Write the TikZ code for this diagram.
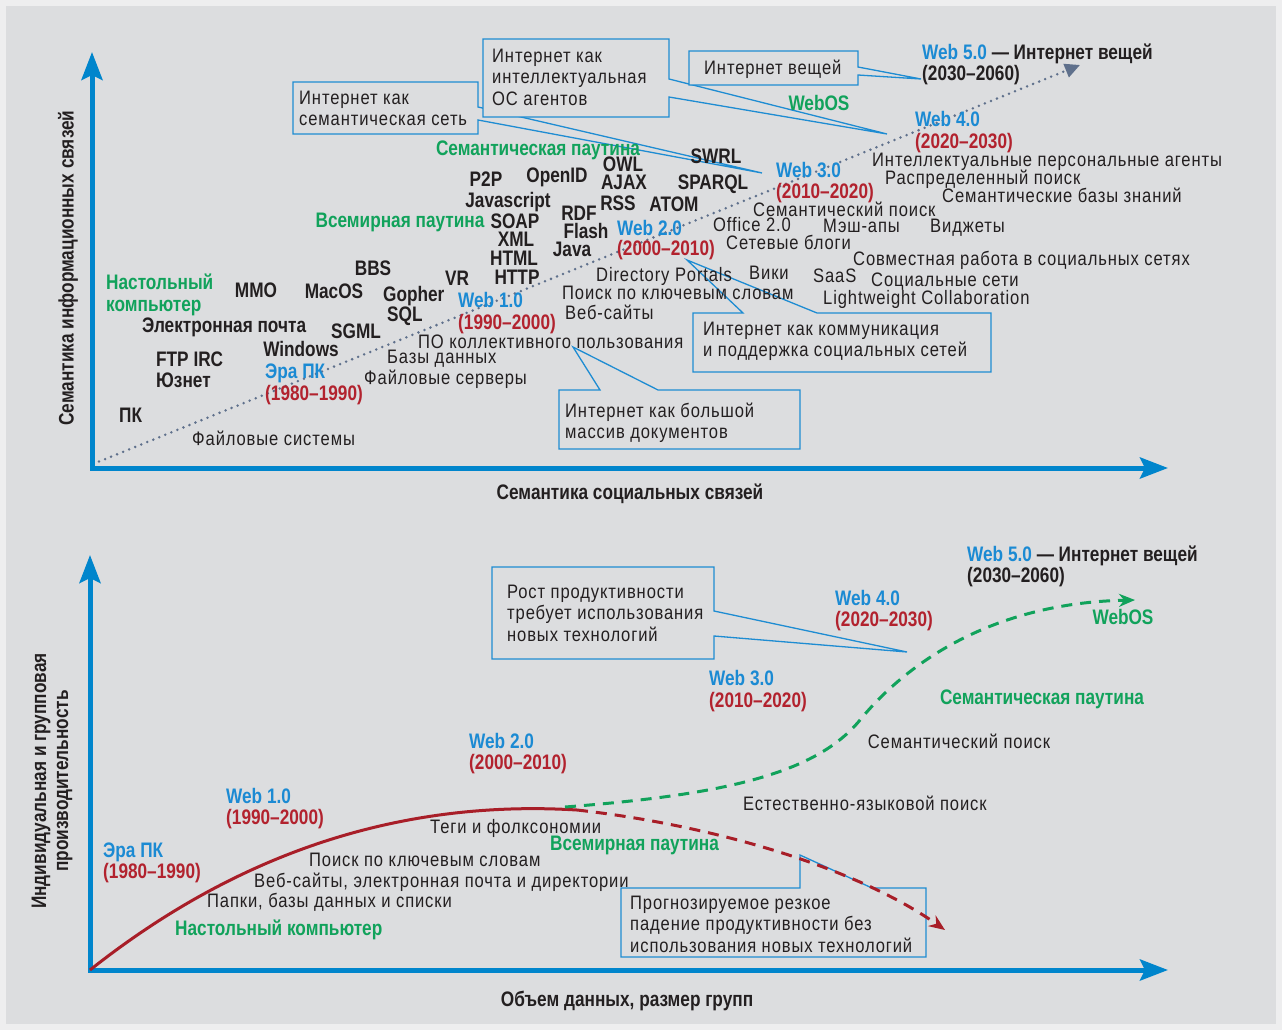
\documentclass[tikz,border=0pt]{standalone}
\usepackage{fontspec}
\usetikzlibrary{arrows.meta}

% narrow sans faces for the labels
\newfontfamily\txtfam{Liberation Sans}[FakeStretch=0.85,LetterSpace=4.5]
\newfontfamily\hdfam{Liberation Sans}[FakeStretch=0.82]
\newcommand\regtxt{\txtfam\fontsize{19.5}{21.3}\selectfont}
\newcommand\boldtxt{\hdfam\bfseries\fontsize{21}{22}\selectfont}

\definecolor{panel}{RGB}{220,221,223}
\definecolor{rim}{RGB}{238,238,239}
\definecolor{ink}{RGB}{35,31,32}
\definecolor{axisblue}{RGB}{0,133,204}
\definecolor{webblue}{RGB}{27,138,211}
\definecolor{yearred}{RGB}{178,34,46}
\definecolor{leafgreen}{RGB}{17,162,91}
\definecolor{trend}{RGB}{95,112,140}
\definecolor{boxline}{RGB}{30,140,210}
\definecolor{curvered}{RGB}{168,30,40}

\tikzset{
  reg/.style={font=\regtxt, text=ink, inner sep=0pt, text height=14pt, text depth=0pt},
  regblock/.style={font=\regtxt, text=ink, inner sep=0pt, align=left, anchor=north west},
  bld/.style={font=\boldtxt, text=ink, inner sep=0pt, text height=15pt, text depth=0pt},
  era/.style={bld, text=webblue, anchor=west},
  years/.style={bld, text=yearred, anchor=west},
  leaf/.style={bld, text=leafgreen},
  callout/.style={draw=boxline, line width=1.3pt, fill=panel, line join=miter},
  axisline/.style={draw=axisblue, line width=5pt,
    {Stealth[length=28pt,width=21pt,inset=5pt]}-{Stealth[length=28pt,width=21pt,inset=5pt]}},
  trendline/.style={draw=trend, line width=2.8pt, line cap=round,
    dash pattern=on 0pt off 6.5pt, -{Triangle[length=15pt,width=14pt]}},
  solidcurve/.style={draw=curvered, line width=3pt},
  dropcurve/.style={draw=curvered, line width=3pt, dash pattern=on 11pt off 8pt,
    -{Stealth[length=16pt,width=13pt]}},
  risecurve/.style={draw=leafgreen, line width=3pt, dash pattern=on 11pt off 8pt,
    -{Stealth[length=16pt,width=13pt]}},
}

\begin{document}
\begin{tikzpicture}[x=1pt,y=-1pt]
\useasboundingbox (0,0) rectangle (1282,1030);
\fill[rim] (0,0) rectangle (1282,1030);
\fill[panel] (6,6) rectangle (1276,1024);

% ---------- upper chart: callouts ----------
\path[callout] (293,82) -- (478,82) -- (478,107) -- (762,173) -- (478,120) -- (478,134) -- (293,134) -- cycle;
\node[regblock] (cSemNet) at (299,91) {Интернет как\\семантическая сеть};

\path[callout] (483,39) -- (669,39) -- (669,79) -- (887,134) -- (669,97) -- (669,117) -- (483,117) -- cycle;
\node[regblock] (cAgentOS) at (492,49) {Интернет как\\интеллектуальная\\ОС агентов};

\path[callout] (689,51) -- (858,51) -- (858,67) -- (921,79) -- (858,75) -- (858,85) -- (689,85) -- cycle;
\node[reg, anchor=west] (cThings) at (704,68) {Интернет вещей};

\path[callout] (693,313) -- (743,313) -- (687,260) -- (817,313) -- (991,313) -- (991,372) -- (693,372) -- cycle;
\node[regblock] (cSocial) at (703,322) {Интернет как коммуникация\\и поддержка социальных сетей};

\path[callout] (559,390) -- (600,390) -- (573,347) -- (658,390) -- (800,390) -- (800,449) -- (559,449) -- cycle;
\node[regblock] (cDocs) at (565,403) {Интернет как большой\\массив документов};

% ---------- upper chart: axes and trend ----------
\coordinate (oA) at (92,468);
\coordinate (yA) at (92,52);
\coordinate (xA) at (1168,468);
\coordinate (tStart) at (93,464);
\coordinate (tEnd) at (1080,65);
\draw[trendline] (tStart) -- (tEnd);
\draw[axisline] (yA) -- (oA) -- (xA);

\node[bld, rotate=90] (yLabA) at (66,268) {Семантика информационных связей};
\node[bld] (xLabA) at (630,492) {Семантика социальных связей};

% technologies (bold)
\node[bld, anchor=west] (tPK) at (119,415) {ПК};
\node[bld, anchor=west] (tFtp) at (156,359) {FTP IRC};
\node[bld, anchor=west] (tUsenet) at (156,380) {Юзнет};
\node[bld, anchor=west] (tMail) at (142,325) {Электронная почта};
\node[bld] (tMmo) at (256,290) {MMO};
\node[bld] (tMac) at (334,291) {MacOS};
\node[bld] (tBbs) at (373,268) {BBS};
\node[bld, anchor=west] (tGopher) at (383,294) {Gopher};
\node[bld, anchor=west] (tSql) at (387,314) {SQL};
\node[bld] (tSgml) at (356,331) {SGML};
\node[bld] (tWin) at (301,349) {Windows};
\node[bld] (tVr) at (457,278) {VR};
\node[bld] (tHttp) at (517,277) {HTTP};
\node[bld] (tHtml) at (514,258) {HTML};
\node[bld] (tXml) at (516,239) {XML};
\node[bld] (tSoap) at (515,221) {SOAP};
\node[bld] (tJs) at (508,200) {Javascript};
\node[bld] (tP2p) at (486,179) {P2P};
\node[bld] (tOpenid) at (557,175) {OpenID};
\node[bld] (tOwl) at (623,164) {OWL};
\node[bld] (tAjax) at (624,182) {AJAX};
\node[bld] (tRss) at (618,203) {RSS};
\node[bld] (tAtom) at (674,204) {ATOM};
\node[bld] (tRdf) at (579,213) {RDF};
\node[bld] (tFlash) at (586,231) {Flash};
\node[bld] (tJava) at (572,249) {Java};
\node[bld] (tSwrl) at (716,156) {SWRL};
\node[bld] (tSparql) at (713,182) {SPARQL};

% paradigms (green)
\node[font=\boldtxt, text=leafgreen, inner sep=0pt, align=left, anchor=north west] (gDeskA) at (106,274) {Настольный\\компьютер};
\node[leaf] (gWwwA) at (400,220) {Всемирная паутина};
\node[leaf] (gSemA) at (538,148) {Семантическая паутина};
\node[leaf] (gOsA) at (819,103) {WebOS};

% eras
\node[era] (ePcA) at (265,371) {Эра ПК};
\node[years] (yPcA) at (265,393) {(1980–1990)};
\node[era] (eW1A) at (458,300) {Web 1.0};
\node[years] (yW1A) at (458,322) {(1990–2000)};
\node[era] (eW2A) at (617,228) {Web 2.0};
\node[years] (yW2A) at (617,248) {(2000–2010)};
\node[era] (eW3A) at (776,170) {Web 3.0};
\node[years] (yW3A) at (776,191) {(2010–2020)};
\node[era] (eW4A) at (915,119) {Web 4.0};
\node[years] (yW4A) at (915,141) {(2020–2030)};
\node[bld, anchor=west] (eW5A) at (922,52) {\textcolor{webblue}{Web 5.0} — Интернет вещей};
\node[bld, anchor=west] (yW5A) at (922,73) {(2030–2060)};

% services (regular)
\node[reg, anchor=west] (sFs) at (192,438) {Файловые системы};
\node[reg, anchor=west] (sFsrv) at (364,377) {Файловые серверы};
\node[reg, anchor=west] (sDb) at (387,356) {Базы данных};
\node[reg, anchor=west] (sGroup) at (418,341) {ПО коллективного пользования};
\node[reg, anchor=west] (sSites) at (565,312) {Веб-сайты};
\node[reg, anchor=west] (sKw) at (562,292) {Поиск по ключевым словам};
\node[reg, anchor=west] (sDir) at (596,274) {Directory Portals};
\node[reg, anchor=west] (sWiki) at (749,272) {Вики};
\node[reg, anchor=west] (sSaas) at (813,275) {SaaS};
\node[reg, anchor=west] (sSocNet) at (871,279) {Социальные сети};
\node[reg, anchor=west] (sLight) at (823,297) {Lightweight Collaboration};
\node[reg, anchor=west] (sCollab) at (853,258) {Совместная работа в социальных сетях};
\node[reg, anchor=west] (sBlogs) at (726,242) {Сетевые блоги};
\node[reg, anchor=west] (sOffice) at (713,224) {Office 2.0};
\node[reg, anchor=west] (sMash) at (823,225) {Мэш-апы};
\node[reg, anchor=west] (sWidg) at (930,225) {Виджеты};
\node[reg, anchor=west] (sSemS) at (753,209) {Семантический поиск};
\node[reg, anchor=west] (sKb) at (942,195) {Семантические базы знаний};
\node[reg, anchor=west] (sDist) at (885,177) {Распределенный поиск};
\node[reg, anchor=west] (sAgents) at (872,159) {Интеллектуальные персональные агенты};

% ---------- lower chart: callouts ----------
\path[callout] (492,567) -- (714,567) -- (714,611) -- (907,652) -- (714,636) -- (714,659) -- (492,659) -- cycle;
\node[regblock] (cGrowth) at (507,585) {Рост продуктивности\\требует использования\\новых технологий};

\path[callout] (621,888) -- (800,888) -- (800,855) -- (872,888) -- (926,888) -- (926,957) -- (621,957) -- cycle;
\node[regblock] (cFall) at (630,896) {Прогнозируемое резкое\\падение продуктивности без\\использования новых технологий};

% ---------- lower chart: axes and curves ----------
\coordinate (oB) at (90,970);
\coordinate (yB) at (90,555);
\coordinate (xB) at (1168,970);
\coordinate (peak) at (577,810);
\coordinate (fork) at (565,807);
\coordinate (bend) at (860,720);
\coordinate (fallEnd) at (945,930);
\coordinate (riseEnd) at (1135,600);
\draw[axisline] (yB) -- (oB) -- (xB);
\draw[solidcurve] (oB) .. controls (220,867) and (380,798) .. (peak);
\draw[dropcurve] (peak) .. controls (720,826) and (860,870) .. (fallEnd);
\draw[risecurve] (fork) .. controls (720,795) and (815,775) .. (bend) .. controls (905,665) and (990,603) .. (riseEnd);

\node[font=\boldtxt, text=ink, inner sep=0pt, align=center, rotate=90] (yLabB) at (52,781) {Индивидуальная и групповая\\производительность};
\node[bld] (xLabB) at (627,999) {Объем данных, размер групп};

% eras
\node[era] (ePcB) at (103,850) {Эра ПК};
\node[years] (yPcB) at (103,871) {(1980–1990)};
\node[era] (eW1B) at (226,796) {Web 1.0};
\node[years] (yW1B) at (226,817) {(1990–2000)};
\node[era] (eW2B) at (469,741) {Web 2.0};
\node[years] (yW2B) at (469,762) {(2000–2010)};
\node[era] (eW3B) at (709,678) {Web 3.0};
\node[years] (yW3B) at (709,700) {(2010–2020)};
\node[era] (eW4B) at (835,598) {Web 4.0};
\node[years] (yW4B) at (835,619) {(2020–2030)};
\node[bld, anchor=west] (eW5B) at (967,554) {\textcolor{webblue}{Web 5.0} — Интернет вещей};
\node[bld, anchor=west] (yW5B) at (967,575) {(2030–2060)};

% paradigms and tools
\node[leaf] (gOsB) at (1123,617) {WebOS};
\node[leaf] (gSemB) at (1042,697) {Семантическая паутина};
\node[reg] (sSemB) at (959,741) {Семантический поиск};
\node[reg, anchor=west] (sNl) at (743,803) {Естественно-языковой поиск};
\node[leaf, anchor=west] (gWwwB) at (550,843) {Всемирная паутина};
\node[reg, anchor=west] (sTags) at (430,826) {Теги и фолксономии};
\node[reg, anchor=west] (sKwB) at (309,859) {Поиск по ключевым словам};
\node[reg, anchor=west] (sWeb) at (254,880) {Веб-сайты, электронная почта и директории};
\node[reg, anchor=west] (sFold) at (207,900) {Папки, базы данных и списки};
\node[leaf, anchor=west] (gDeskB) at (175,928) {Настольный компьютер};
\end{tikzpicture}
\end{document}
